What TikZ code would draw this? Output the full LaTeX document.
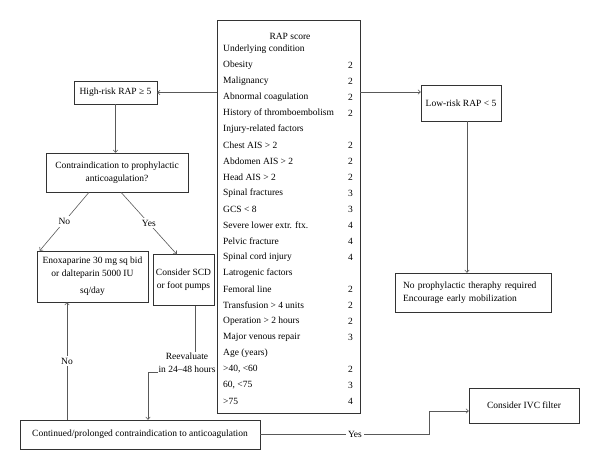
\documentclass[tikz,border=0pt]{standalone}
\usepackage{fontspec}
\setmainfont{Liberation Serif}
\usetikzlibrary{arrows.meta,calc}
\newcommand\rrow[4]{\node[rowtxt] (#1) at (223,#2) {#3};\node[rowval] (#1v) at (353,#2) {#4};}
\newcommand\rhead[3]{\node[rowtxt] (#1) at (223,#2) {#3};}
\begin{document}
\begin{tikzpicture}[x=1pt,y=-1pt,
  font=\fontsize{9.5}{13}\selectfont,
  box/.style={draw=black!80, line width=0.6pt, inner sep=0pt, align=center},
  conn/.style={draw=black!65, line width=0.6pt},
  arr/.style={conn, -{To[length=3pt,width=5pt]}},
  lbl/.style={fill=white, inner sep=2pt},
  rowtxt/.style={anchor=west, inner sep=0pt},
  rowval/.style={anchor=east, inner sep=0pt}]
\useasboundingbox (0,0) rectangle (600,470);
% score table
\node[box, minimum width=143pt, minimum height=393pt] (tab) at (288.5,216.5) {};
\node[inner sep=0pt] (rap) at (290,36) {RAP score};
\rhead{under}{49}{Underlying condition}
\rrow{obes}{65}{Obesity}{2}
\rrow{malig}{81}{Malignancy}{2}
\rrow{abn}{97}{Abnormal coagulation}{2}
\rrow{hist}{113}{History of thromboembolism}{2}
\rhead{inj}{129}{Injury-related factors}
\rrow{chest}{145}{Chest AIS > 2}{2}
\rrow{abd}{161}{Abdomen AIS > 2}{2}
\rrow{head}{177}{Head AIS > 2}{2}
\rrow{spfr}{193}{Spinal fractures}{3}
\rrow{gcs}{209}{GCS < 8}{3}
\rrow{sev}{225}{Severe lower extr. ftx.}{4}
\rrow{pelv}{241}{Pelvic fracture}{4}
\rrow{spc}{257}{Spinal cord injury}{4}
\rhead{latr}{273}{Latrogenic factors}
\rrow{fem}{289}{Femoral line}{2}
\rrow{trans}{305}{Transfusion > 4 units}{2}
\rrow{oper}{321}{Operation > 2 hours}{2}
\rrow{ven}{337}{Major venous repair}{3}
\rhead{age}{353}{Age (years)}
\rrow{agea}{369}{>40, <60}{2}
\rrow{ageb}{385}{60, <75}{3}
\rrow{agec}{401}{>75}{4}
% boxes
\node[box, minimum width=83pt, minimum height=23pt] (high) at (115.5,92.5) {High-risk RAP ≥ 5};
\node[box, minimum width=142pt, minimum height=39pt] (contra) at (117,172.5) {Contraindication to prophylactic\\anticoagulation?};
\node[box, minimum width=111pt, minimum height=51pt] (enox) at (92.5,276.5) {Enoxaparine 30 mg sq bid\\or dalteparin 5000 IU\\[4pt]sq/day};
\node[box, minimum width=61pt, minimum height=51pt] (scd) at (183.5,280) {Consider SCD\\or foot pumps};
\node[box, minimum width=240pt, minimum height=29pt] (cont) at (140,434.5) {Continued/prolonged contraindication to anticoagulation};
\node[box, minimum width=80pt, minimum height=36pt] (low) at (461,103) {Low-risk RAP < 5};
\node[box, text width=140pt, inner xsep=8pt, minimum height=39pt, align=left] (noproph) at (473,292.5) {No prophylactic theraphy required\\Encourage early mobilization};
\node[box, minimum width=110pt, minimum height=35pt] (ivc) at (524,405.5) {Consider IVC filter};
% helper coordinates
\path (low.west) ++(0,-11) coordinate (lowin);
\path ($(contra.south)+(-28,0)$) coordinate (cno);
\path ($(enox.north west)+(3,0)$) coordinate (enxin);
\path ($(contra.south)+(4,0)$) coordinate (cyes);
\path ($(scd.north west)+(24,0)$) coordinate (scdin);
\path ($(scd.south)+(11.5,0)$) coordinate (scdout);
\path ($(cont.north)+(8,0)$) coordinate (contin);
\path ($(cont.north)+(-73,0)$) coordinate (contno);
\path ($(ivc.west)+(0,5.5)$) coordinate (ivcin);
\path ($(low.south)+(6,0)$) coordinate (lowout);
% connectors
\draw[arr] (tab.west |- high.east) -- (high.east);
\draw[arr] (tab.east |- lowin) -- (lowin);
\draw[arr] (high.south) -- (high.south |- contra.north);
\draw[arr] (cno) -- node[lbl]{No} (enxin);
\draw[arr] (cyes) -- node[lbl]{Yes} (scdin);
\draw[arr] (scdout) -- ++(0,67) -| (contin);
\node[lbl, align=center, inner sep=1pt] (reeval) at (187,363) {Reevaluate\\in 24–48 hours};
\draw[arr] (contno) -- node[lbl]{No} (contno |- enox.south);
\draw[arr] (cont.east) -- node[lbl,pos=0.56]{Yes} ++(169,0) |- (ivcin);
\draw[arr] (lowout) -- (lowout |- noproph.north);
\end{tikzpicture}
\end{document}
